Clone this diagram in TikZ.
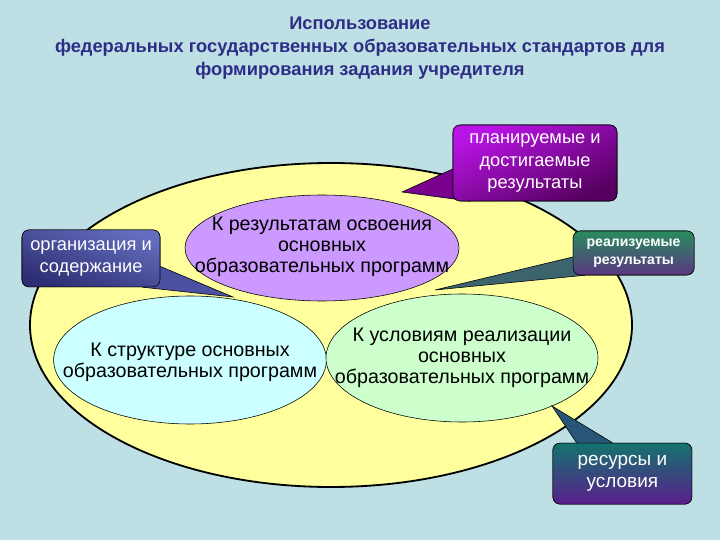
\documentclass[tikz,border=0pt]{standalone}
\usepackage{fontspec}
\setmainfont{Liberation Sans}
\usepackage{tikz}
\usetikzlibrary{positioning,shapes.geometric,calc}

\definecolor{bgcol}{RGB}{190,224,228}
\definecolor{titlecol}{RGB}{45,45,135}
\definecolor{yellowcol}{RGB}{255,255,158}
\definecolor{lilac}{RGB}{204,153,255}
\definecolor{palecyan}{RGB}{204,255,255}
\definecolor{palegreen}{RGB}{204,255,204}

\begin{document}
\begin{tikzpicture}[
  zone/.style={draw, ellipse, inner sep=0pt},
  zonetext/.style={align=center, font=\fontsize{14}{15}\selectfont},
  note/.style={draw, rounded corners=5pt, align=center, text=white,
               font=\fontsize{13}{16}\selectfont},
  tail/.style={draw, line join=miter},
]
\fill[bgcol] (0,0) rectangle (18,13.5);
\useasboundingbox (0,0) rectangle (18,13.5);

\node[align=center, text=titlecol, font=\bfseries\fontsize{13}{16.5}\selectfont] (title) at (9,12.3)
  {Использование\\федеральных государственных образовательных стандартов для\\формирования задания учредителя};

\node[zone, line width=1.3pt, fill=yellowcol, minimum width=15.05cm, minimum height=8.1cm] (field) at (8.275,5.375) {};

\node[zone, fill=palecyan,  minimum width=6.82cm, minimum height=3.2cm] (struct) at (4.75,4.5) {};
\node[zone, fill=palegreen, minimum width=6.8cm, minimum height=3.2cm] (cond) at (11.55,4.55) {};
\node[zone, fill=lilac,     minimum width=6.85cm, minimum height=2.65cm] (res) at (8.05,7.3) {};

\node[zonetext] (structtext) at (4.75,4.45) {К структуре основных\\образовательных программ};
\node[zonetext] (condtext)   at (11.55,4.55) {К условиям реализации\\основных\\образовательных программ};
\node[zonetext] (restext)    at (8.05,7.33) {К результатам освоения\\основных\\образовательных программ};

% callouts
\coordinate (plantip) at (10.05,8.7);
\coordinate (realtip) at (10.875,6.25);
\coordinate (orgtip)  at (5.825,6.075);
\coordinate (srctip)  at (13.8,3.35);

\node[note, minimum width=4.1cm, minimum height=1.9cm] (plan) at (13.375,9.425) {};
\node[note, minimum width=3.025cm, minimum height=1.1cm] (real) at (15.84,7.175) {};
\node[note, minimum width=3.45cm, minimum height=1.425cm] (org) at (2.275,7.04) {};
\node[note, minimum width=3.475cm, minimum height=1.525cm] (src) at (15.56,1.66) {};

\draw[tail, fill={rgb,255:red,120;green,0;blue,140}]
  ($(plan.west)+(0,-0.15)$) -- (plantip) -- ($(plan.south west)+(0.45,0)$);
\draw[tail, fill={rgb,255:red,60;green,100;blue,110}]
  ($(real.west)+(0,-0.1)$) -- (realtip) -- ($(real.south west)+(0.3,0)$);
\draw[tail, fill={rgb,255:red,75;green,80;blue,160}]
  ($(org.east)+(0,-0.2)$) -- (orgtip) -- ($(org.south east)+(-0.45,0)$);
\draw[tail, fill={rgb,255:red,40;green,85;blue,120}]
  ($(src.north west)+(0.6,0)$) -- (srctip) -- ($(src.north west)+(1.5,0)$);

% box bodies over the tails
\node[note, top color={rgb,255:red,185;green,20;blue,230}, bottom color={rgb,255:red,85;green,0;blue,95},
      shading angle=25, minimum width=4.1cm, minimum height=1.9cm] at (plan)
  {планируемые и\\достигаемые\\результаты};
\node[note, top color={rgb,255:red,40;green,140;blue,95}, bottom color={rgb,255:red,90;green,55;blue,130},
      font=\bfseries\fontsize{10}{13}\selectfont, minimum width=3.025cm, minimum height=1.1cm] at (real)
  {реализуемые\\результаты};
\node[note, top color={rgb,255:red,100;green,110;blue,190}, bottom color={rgb,255:red,45;green,45;blue,115},
      shading angle=-20, minimum width=3.45cm, minimum height=1.425cm] at (org)
  {организация и\\содержание};
\node[note, top color={rgb,255:red,20;green,115;blue,110}, bottom color={rgb,255:red,90;green,30;blue,140},
      font=\fontsize{13.5}{16}\selectfont, minimum width=3.475cm, minimum height=1.525cm] at (src)
  {ресурсы и\\условия};
\end{tikzpicture}
\end{document}
